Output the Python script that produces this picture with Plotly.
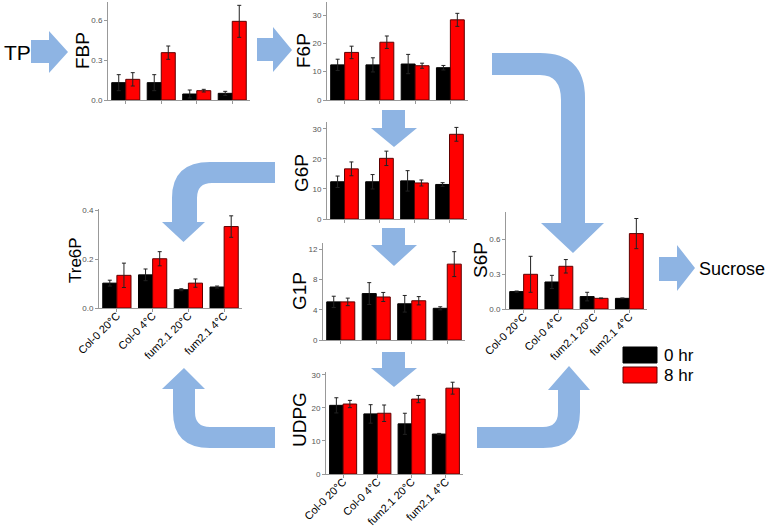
import plotly.graph_objects as go

W, H = 768, 528

categories = ["Col-0 20°C", "Col-0 4°C", "fum2.1 20°C", "fum2.1 4°C"]
series_names = ["0 hr", "8 hr"]

fbp_0 = [0.13, 0.13, 0.045, 0.05]
fbp_0_err = [0.06, 0.06, 0.03, 0.015]
fbp_8 = [0.155, 0.355, 0.07, 0.59]
fbp_8_err = [0.05, 0.05, 0.01, 0.12]

f6p_0 = [12.4, 12.4, 12.7, 11.4]
f6p_0_err = [2.0, 2.5, 3.4, 0.8]
f6p_8 = [16.8, 20.4, 12.1, 28.3]
f6p_8_err = [2.2, 2.2, 0.9, 2.3]

g6p_0 = [12.4, 12.4, 12.7, 11.5]
g6p_0_err = [1.9, 2.4, 3.4, 0.6]
g6p_8 = [16.7, 20.2, 12.0, 28.2]
g6p_8_err = [2.3, 2.4, 1.0, 2.3]

g1p_0 = [5.05, 6.15, 4.8, 4.2]
g1p_0_err = [0.75, 1.45, 1.1, 0.2]
g1p_8 = [5.05, 5.7, 5.2, 10.05]
g1p_8_err = [0.5, 0.6, 0.55, 1.65]

udpg_0 = [20.8, 18.2, 15.2, 12.1]
udpg_0_err = [2.3, 2.8, 3.2, 0.2]
udpg_8 = [21.2, 18.4, 22.7, 26.0]
udpg_8_err = [1.1, 2.5, 1.1, 1.8]

tre6p_0 = [0.102, 0.136, 0.075, 0.086]
tre6p_0_err = [0.012, 0.024, 0.004, 0.004]
tre6p_8 = [0.134, 0.202, 0.102, 0.334]
tre6p_8_err = [0.05, 0.029, 0.017, 0.044]

s6p_0 = [0.15, 0.233, 0.107, 0.092]
s6p_0_err = [0.005, 0.057, 0.037, 0.003]
s6p_8 = [0.299, 0.368, 0.092, 0.65]
s6p_8_err = [0.155, 0.058, 0.003, 0.13]

FONT = "Liberation Sans"
ARROW = "#8EB4E3"
RED = "#FF0000"

# name, data, pixel box (x0, x1, ytop, ybottom), y max, dtick, tickformat, show x labels, title centre, title size
panels = [
    ("FBP", (fbp_0, fbp_0_err, fbp_8, fbp_8_err), (108, 250, 2, 100), 0.735, 0.3, ".1f", False, (83, 51), 19),
    ("F6P", (f6p_0, f6p_0_err, f6p_8, f6p_8_err), (327, 468, 2, 100), 34.6, 10, "d", False, (304, 51), 19),
    ("G6P", (g6p_0, g6p_0_err, g6p_8, g6p_8_err), (327, 467, 122, 219), 32.3, 10, "d", False, (301, 173), 19),
    ("G1P", (g1p_0, g1p_0_err, g1p_8, g1p_8_err), (323, 465, 243, 340), 12.85, 4, "d", False, (299, 291), 19),
    ("UDPG", (udpg_0, udpg_0_err, udpg_8, udpg_8_err), (326, 463, 372, 474), 30.9, 10, "d", True, (299, 420), 19),
    ("Tre6P", (tre6p_0, tre6p_0_err, tre6p_8, tre6p_8_err), (99, 242, 209, 308), 0.406, 0.2, ".1f", True, (75, 260), 17),
    ("S6P", (s6p_0, s6p_0_err, s6p_8, s6p_8_err), (506, 647, 212, 309), 0.836, 0.3, ".1f", True, (480, 260), 19),
]

fig = go.Figure()
layout = dict(
    width=W, height=H, margin=dict(l=0, r=0, t=0, b=0, autoexpand=False),
    paper_bgcolor="white", plot_bgcolor="white",
    barmode="group", bargap=0.21, bargroupgap=0.0,
    showlegend=False, font=dict(family=FONT, color="black"),
)
annotations = []

for i, (name, (v0, e0, v8, e8), box, ymax, dtick, tfmt, showx, tpos, tsize) in enumerate(panels):
    n = "" if i == 0 else str(i + 1)
    xa, ya = "x" + n, "y" + n
    fig.add_trace(go.Bar(
        x=categories, y=v0, name=series_names[0], xaxis=xa, yaxis=ya, offsetgroup="a",
        marker=dict(color="black", line=dict(color="black", width=1)),
        error_y=dict(type="data", array=e0, color="#222", thickness=1, width=2),
    ))
    fig.add_trace(go.Bar(
        x=categories, y=v8, name=series_names[1], xaxis=xa, yaxis=ya, offsetgroup="b",
        marker=dict(color=RED, line=dict(color="#600000", width=1)),
        error_y=dict(type="data", array=e8, color="#222", thickness=1, width=2),
    ))
    x0, x1, yt, yb = box
    layout["xaxis" + n] = dict(
        domain=[x0 / W, x1 / W], anchor=ya, showline=True, linecolor="#999", linewidth=1,
        ticks="outside", ticklen=3, tickcolor="#999", showgrid=False, zeroline=False,
        showticklabels=showx, tickangle=-45, tickfont=dict(size=11, color="black", family=FONT),
        ticklabelstandoff=-7,
        range=[-0.5, 3.5], automargin=False,
    )
    layout["yaxis" + n] = dict(
        domain=[1 - yb / H, 1 - yt / H], anchor=xa, showline=True, linecolor="#999", linewidth=1,
        ticks="outside", ticklen=3, tickcolor="#999", showgrid=False, zeroline=False,
        range=[0, ymax], dtick=dtick, tick0=0, tickformat=tfmt,
        tickfont=dict(size=8, color="#555", family=FONT), automargin=False,
    )
    annotations.append(dict(
        text=name, x=tpos[0] / W, y=1 - tpos[1] / H, xref="paper", yref="paper",
        textangle=-90, showarrow=False, xanchor="center", yanchor="middle",
        font=dict(size=tsize, color="black", family=FONT),
    ))


def path(cmds):
    s = []
    for c in cmds:
        op, nums = c[0], c[1:]
        pts = [f"{nums[k] / W:.5f},{1 - nums[k + 1] / H:.5f}" for k in range(0, len(nums), 2)]
        s.append(op + " " + " ".join(pts))
    return " ".join(s) + " Z"


arrow_paths = [
    # TP -> FBP
    [("M", 31, 40), ("L", 49, 40), ("L", 49, 31), ("L", 68, 52), ("L", 49, 73), ("L", 49, 63), ("L", 31, 63)],
    # FBP -> F6P
    [("M", 257, 38), ("L", 273, 38), ("L", 273, 27), ("L", 292, 50), ("L", 273, 72), ("L", 273, 61), ("L", 257, 61)],
    # F6P -> G6P
    [("M", 382, 110), ("L", 405, 110), ("L", 405, 128), ("L", 417, 128), ("L", 394, 147), ("L", 371, 128), ("L", 382, 128)],
    # G6P -> G1P
    [("M", 382, 228), ("L", 405, 228), ("L", 405, 245), ("L", 417, 245), ("L", 394, 266), ("L", 371, 245), ("L", 382, 245)],
    # G1P -> UDPG
    [("M", 382, 352), ("L", 405, 352), ("L", 405, 368), ("L", 417, 368), ("L", 394, 387), ("L", 371, 368), ("L", 382, 368)],
    # S6P -> Sucrose
    [("M", 659, 257), ("L", 677, 257), ("L", 677, 245), ("L", 695, 268), ("L", 677, 291), ("L", 677, 281), ("L", 659, 281)],
    # F6P -> S6P (curved)
    [("M", 492, 53), ("L", 540, 53), ("Q", 585, 53, 585, 98), ("L", 585, 223), ("L", 604, 223), ("L", 573, 253),
     ("L", 541, 223), ("L", 561, 223), ("L", 561, 100), ("Q", 561, 75, 540, 75), ("L", 492, 75)],
    # G6P -> Tre6P (curved)
    [("M", 275, 162), ("L", 210, 162), ("Q", 172, 162, 172, 198), ("L", 172, 222), ("L", 162, 222), ("L", 183.5, 242),
     ("L", 205, 222), ("L", 197, 222), ("L", 197, 198), ("Q", 197, 183, 212, 183), ("L", 275, 183)],
    # UDPG -> Tre6P (curved)
    [("M", 184, 368), ("L", 205, 389), ("L", 195, 389), ("L", 195, 412), ("Q", 195, 427, 210, 427), ("L", 275, 427),
     ("L", 275, 448), ("L", 210, 448), ("Q", 173, 448, 173, 412), ("L", 173, 389), ("L", 162, 389)],
    # UDPG -> S6P (curved)
    [("M", 477, 427), ("L", 543, 427), ("Q", 558, 427, 558, 412), ("L", 558, 390), ("L", 548, 390), ("L", 569, 366),
     ("L", 590, 390), ("L", 580, 390), ("L", 580, 412), ("Q", 580, 448, 543, 448), ("L", 477, 448)],
]

shapes = [dict(type="path", xref="paper", yref="paper", path=path(p), fillcolor=ARROW,
               line=dict(width=0), layer="above") for p in arrow_paths]

# legend keys
legend_colors = [("black", "black"), (RED, "#600000")]
legend_rows = [(347, 363), (367, 383)]
for (fc, lc), (y0, y1), lab in zip(legend_colors, legend_rows, series_names):
    shapes.append(dict(type="rect", xref="paper", yref="paper", x0=623 / W, x1=657 / W,
                       y0=1 - y1 / H, y1=1 - y0 / H, fillcolor=fc, line=dict(color=lc, width=1)))
    annotations.append(dict(text=lab, x=662 / W, y=1 - (y0 + y1) / 2 / H, xref="paper", yref="paper",
                            showarrow=False, xanchor="left", yanchor="middle",
                            font=dict(size=17, color="black", family=FONT)))

annotations.append(dict(text="TP", x=2 / W, y=1 - 52 / H, xref="paper", yref="paper", showarrow=False,
                        xanchor="left", yanchor="middle", font=dict(size=21, color="black", family=FONT)))
annotations.append(dict(text="Sucrose", x=697 / W, y=1 - 269 / H, xref="paper", yref="paper", showarrow=False,
                        xanchor="left", yanchor="middle", font=dict(size=18, color="black", family=FONT)))

layout["shapes"] = shapes
layout["annotations"] = annotations
fig.update_layout(**layout)
fig.write_html("out.html", config={"displayModeBar": False},
               post_script="document.body.style.margin='0';document.body.style.padding='0';document.body.style.overflow='hidden';")
